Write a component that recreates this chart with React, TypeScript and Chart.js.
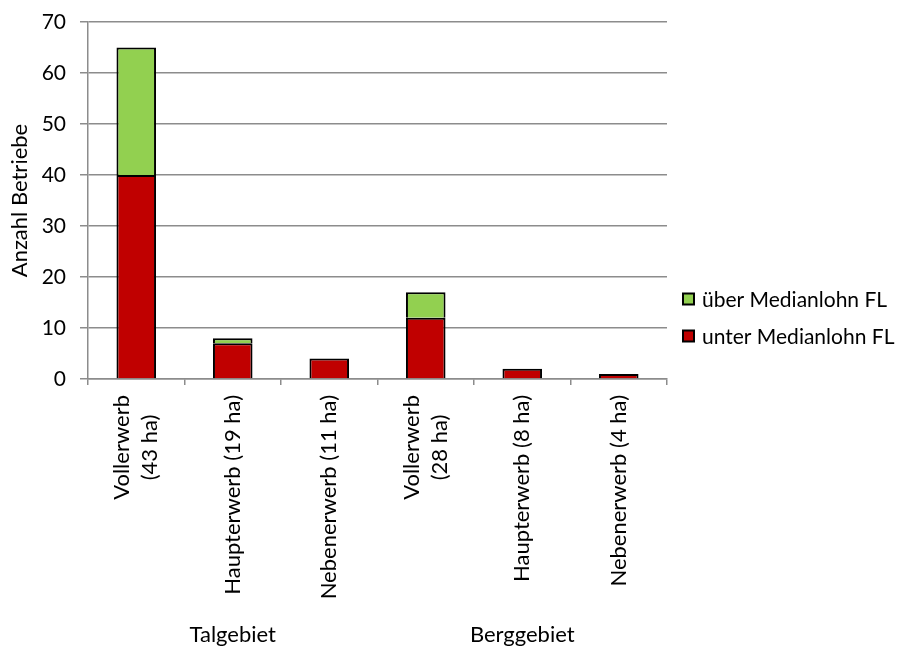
import React, { useEffect, useRef } from "react";
import { Chart, registerables } from "chart.js";

Chart.register(...registerables);

// Farm categories (rotated axis labels), grouped by region
const categories: (string | string[])[] = [
  ["Vollerwerb", "(43 ha)"],
  "Haupterwerb (19 ha)",
  "Nebenerwerb (11 ha)",
  ["Vollerwerb", "(28 ha)"],
  "Haupterwerb (8 ha)",
  "Nebenerwerb (4 ha)",
];
const regions = ["Talgebiet", "Berggebiet"];
const regionCenterIndex = [1, 4];

// Number of farms below / above the median wage
const unterMedian = [40, 7, 4, 12, 2, 1];
const ueberMedian = [25, 1, 0, 5, 0, 0];

const yTicks = [0, 10, 20, 30, 40, 50, 60, 70];

const FONT = "Lato, 'Open Sans', sans-serif";
const GRID = "#8c8c8c";
const RED = "#C00000";
const GREEN = "#92D050";

const legendItems = [
  { label: "über Medianlohn FL", color: GREEN },
  { label: "unter Medianlohn FL", color: RED },
];

// Draws the rotated category labels, the region captions and the legend
const extrasPlugin = {
  id: "extras",
  afterDraw(chart: any) {
    const ctx = chart.ctx as CanvasRenderingContext2D;
    const x = chart.scales.x;
    const area = chart.chartArea;
    ctx.save();
    ctx.fillStyle = "#000";

    // category labels, read bottom-to-top, top-aligned under the axis
    ctx.font = `22px ${FONT}`;
    const labelTop = area.bottom + 16;
    const lineGap = 28;
    categories.forEach((lab, i) => {
      const lines = Array.isArray(lab) ? lab : [lab];
      const w = Math.max(...lines.map((l) => ctx.measureText(l).width));
      const cx = x.getPixelForValue(i);
      lines.forEach((line, j) => {
        const lx = cx + (j - (lines.length - 1) / 2) * lineGap;
        ctx.save();
        ctx.translate(lx, labelTop + w / 2);
        ctx.rotate(-Math.PI / 2);
        ctx.textAlign = "center";
        ctx.textBaseline = "middle";
        ctx.fillText(line, 0, 0);
        ctx.restore();
      });
    });

    // region captions
    ctx.textAlign = "center";
    ctx.textBaseline = "alphabetic";
    regions.forEach((r, i) => {
      ctx.fillText(r, x.getPixelForValue(regionCenterIndex[i]), 642);
    });

    // legend
    ctx.font = `21px ${FONT}`;
    const sx = area.right + 16;
    legendItems.forEach((item, i) => {
      const cy = 299 + i * 37;
      ctx.fillStyle = item.color;
      ctx.fillRect(sx, cy - 5.5, 11, 11);
      ctx.strokeStyle = "#000";
      ctx.lineWidth = 2;
      ctx.strokeRect(sx, cy - 5.5, 11, 11);
      ctx.fillStyle = "#000";
      ctx.textAlign = "left";
      ctx.textBaseline = "middle";
      ctx.fillText(item.label, sx + 19, cy + 1);
    });
    ctx.restore();
  },
};

export default function App() {
  const ref = useRef<HTMLCanvasElement>(null);

  useEffect(() => {
    if (!ref.current) return;
    const chart = new Chart(ref.current, {
      type: "bar",
      data: {
        labels: categories,
        datasets: [
          {
            label: "unter Medianlohn FL",
            data: unterMedian,
            backgroundColor: RED,
            borderColor: "#000",
            borderWidth: 2,
            borderSkipped: "bottom",
            barPercentage: 0.41,
            categoryPercentage: 1,
          },
          {
            label: "über Medianlohn FL",
            data: ueberMedian,
            backgroundColor: GREEN,
            borderColor: "#000",
            borderWidth: 2,
            borderSkipped: "bottom",
            barPercentage: 0.41,
            categoryPercentage: 1,
          },
        ],
      },
      options: {
        animation: false,
        responsive: false,
        layout: { padding: { left: 0, top: 22, right: 241, bottom: 0 } },
        plugins: {
          legend: { display: false },
          tooltip: { enabled: false },
        },
        scales: {
          x: {
            stacked: true,
            offset: true,
            afterFit: (s: any) => {
              s.height = 646 - 379;
              s.paddingLeft = 0;
              s.paddingRight = 0;
            },
            grid: {
              offset: true,
              drawOnChartArea: false,
              drawTicks: true,
              tickLength: 6,
              color: GRID,
              lineWidth: 1.5,
            },
            border: { color: GRID, width: 1.5 },
            ticks: { display: false, autoSkip: false },
          },
          y: {
            stacked: true,
            min: 0,
            max: 70,
            afterFit: (s: any) => {
              s.width = 88;
              s.paddingTop = 0;
              s.paddingBottom = 0;
            },
            afterBuildTicks: (s: any) => {
              s.ticks = yTicks.map((v) => ({ value: v }));
            },
            grid: {
              color: GRID,
              lineWidth: 1.5,
              tickLength: 8,
            },
            border: { color: GRID, width: 1.5 },
            ticks: {
              padding: 14,
              color: "#000",
              font: { family: FONT, size: 21 },
            },
            title: {
              display: true,
              text: "Anzahl Betriebe",
              color: "#000",
              padding: { top: 7, bottom: 4 },
              font: { family: FONT, size: 22 },
            },
          },
        },
      },
      plugins: [extrasPlugin],
    });
    return () => chart.destroy();
  }, []);

  return (
    <div style={{ position: "fixed", left: 0, top: 0, width: 908, height: 646, background: "#fff" }}>
      <canvas ref={ref} width={908} height={646} style={{ display: "block" }} />
    </div>
  );
}
